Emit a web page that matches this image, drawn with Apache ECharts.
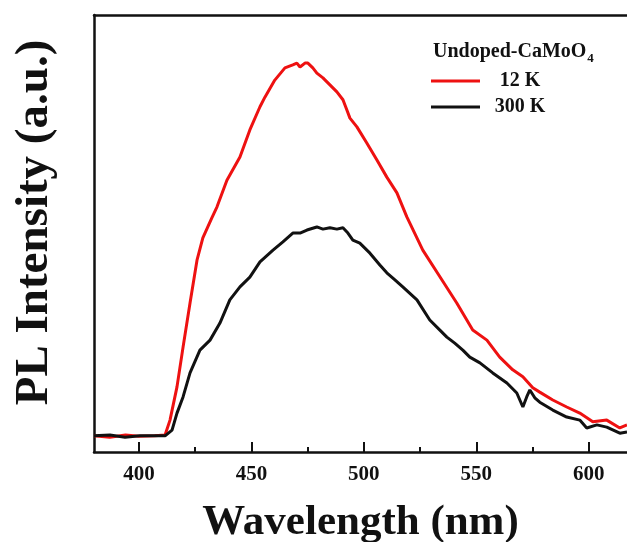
<!DOCTYPE html>
<html>
<head>
<meta charset="utf-8">
<script src="https://cdn.jsdelivr.net/npm/echarts@6/dist/echarts.min.js"></script>
<style>html,body{margin:0;padding:0;background:#fff}#c{width:627px;height:542px}</style>
</head>
<body>
<div id="c"></div>
<script>
var majorTicks = [400, 450, 500, 550, 600];
var minorTicks = [425, 475, 525, 575];
var seriesNames = ['12 K', '300 K'];
var wl12 = [380,387,394,400,407,411.6,413.8,416.9,419.6,422.7,425.8,428.4,432.4,434.7,439.1,444.9,449.3,453.8,456,460.4,464.9,468.4,470.2,471.6,473.8,475.1,477.3,479.1,481.8,484.9,488,490.7,492.4,493.8,496.9,501.3,505.8,510.2,514.7,519.1,526.2,533.8,541.3,548.4,554.7,560.4,566.2,570.7,575.1,578.2,584,590.2,596,601.8,608,613.8,617];
var pl12 = [3.7,3.4,3.9,3.6,3.7,3.9,7.3,14.9,24.0,34.1,43.9,49.0,53.6,56.1,62.2,67.5,73.7,79.0,81.2,85.1,87.9,88.6,89.0,88.1,89.0,89.0,87.9,86.7,85.6,84.0,82.4,80.6,78.3,76.4,74.4,70.7,66.8,62.9,59.3,53.8,46.2,40.1,34.1,27.9,25.6,21.7,18.8,17.2,14.7,13.7,11.9,10.3,8.9,6.9,7.3,5.5,6.2];
var wl300 = [380,387.1,393.8,400.4,407.1,411.6,414.7,416.9,419.6,422.7,427.1,431.6,436,440.4,444.9,449.3,453.8,459.6,464,468.4,471.6,474.7,479.1,481.8,484.9,488,490.7,492.9,495.1,498.2,502.7,507.1,510.2,513.8,517.3,523.6,529.3,533.8,536.9,540.4,544,547.1,551.6,557.3,563.6,568,570.7,572.4,573.8,576,578.2,584,590.2,596,599.1,603.6,608,613.8,617];
var pl300 = [3.7,3.9,3.4,3.7,3.7,3.7,5.0,8.9,12.6,18.1,23.3,25.6,29.5,34.8,37.8,40.0,43.5,46.2,48.1,50.1,50.1,50.8,51.5,51.0,51.3,51.0,51.3,50.1,48.5,47.8,45.5,42.8,41.0,39.4,37.8,34.8,30.2,27.9,26.3,24.9,23.3,21.7,20.4,18.1,15.8,13.5,10.3,12.6,14.2,12.4,11.4,9.6,8.0,7.3,5.5,6.2,5.7,4.3,4.6];

function pairs(xs, ys) { return xs.map(function (x, i) { return [x, ys[i]]; }); }

var FONT = '"Liberation Serif","Times New Roman",serif';
var chart = echarts.init(document.getElementById('c'), null, {renderer: 'canvas'});
chart.setOption({
  backgroundColor: '#fff',
  animation: false,
  title: {
    left: 433, top: 38, padding: 0,
    text: '{a|Undoped-CaMoO}{b|4}',
    textStyle: {
      rich: {
        a: {fontFamily: FONT, fontWeight: 'bold', fontSize: 20, color: '#111'},
        b: {fontFamily: FONT, fontWeight: 'bold', fontSize: 13, color: '#111', padding: [14, 0, 0, 1]}
      }
    }
  },
  legend: {
    orient: 'vertical', left: 431, top: 71, padding: 0,
    itemWidth: 49, itemHeight: 3, itemGap: 6, icon: 'rect',
    data: seriesNames,
    formatter: function (n) { return '{a|' + n + '}'; },
    textStyle: {
      rich: {a: {fontFamily: FONT, fontWeight: 'bold', fontSize: 20, color: '#111', width: 70, align: 'center'}}
    }
  },
  grid: {left: 94, right: 0, top: 15, bottom: 90, outerBoundsMode: 'none', containLabel: false},
  xAxis: [{
    type: 'value', min: 380, max: 617, position: 'bottom',
    name: 'Wavelength (nm)', nameLocation: 'middle', nameGap: 49,
    nameTextStyle: {fontFamily: FONT, fontWeight: 'bold', fontSize: 43, color: '#111'},
    axisLine: {show: true, onZero: false, lineStyle: {color: '#111', width: 2.5}},
    axisTick: {show: true, inside: true, length: 10, customValues: majorTicks, lineStyle: {color: '#111', width: 2}},
    axisLabel: {show: true, margin: 12, customValues: majorTicks, fontFamily: FONT, fontWeight: 'bold', fontSize: 21, color: '#111'},
    splitLine: {show: false}
  }, {
    type: 'value', min: 380, max: 617, position: 'bottom',
    axisLine: {show: false},
    axisTick: {show: true, inside: true, length: 5, customValues: minorTicks, lineStyle: {color: '#111', width: 2}},
    axisLabel: {show: false},
    splitLine: {show: false}
  }, {
    type: 'value', min: 380, max: 617, position: 'top',
    axisLine: {show: true, onZero: false, lineStyle: {color: '#111', width: 2.5}},
    axisTick: {show: false}, axisLabel: {show: false}, splitLine: {show: false}
  }],
  yAxis: {
    type: 'value', min: 0, max: 100,
    name: 'PL Intensity (a.u.)', nameLocation: 'middle', nameGap: 36,
    nameTextStyle: {fontFamily: FONT, fontWeight: 'bold', fontSize: 47, color: '#111', padding: [0, 0, 0, 22]},
    axisLine: {show: true, onZero: false, lineStyle: {color: '#111', width: 2.5}},
    axisTick: {show: false}, axisLabel: {show: false}, splitLine: {show: false}
  },
  series: [{
    name: seriesNames[0], type: 'line', symbol: 'none', z: 2,
    data: pairs(wl12, pl12),
    lineStyle: {color: '#ee1111', width: 3}, itemStyle: {color: '#ee1111'}
  }, {
    name: seriesNames[1], type: 'line', symbol: 'none', z: 3,
    data: pairs(wl300, pl300),
    lineStyle: {color: '#111111', width: 3}, itemStyle: {color: '#111111'}
  }]
});
</script>
</body>
</html>
